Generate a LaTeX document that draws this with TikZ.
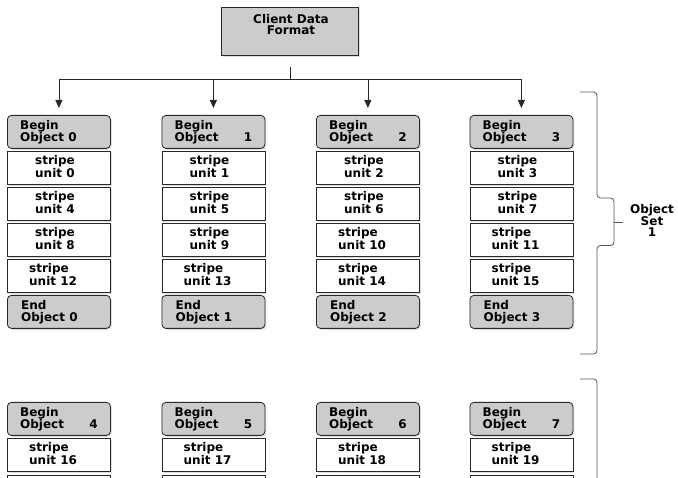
\documentclass[tikz,border=0pt]{standalone}
\usepackage{fontspec}
\setmainfont{DejaVu Sans}
\usetikzlibrary{shadows,arrows.meta}
\definecolor{boxgray}{RGB}{204,204,204}
\definecolor{linec}{RGB}{40,40,40}
\definecolor{bracec}{RGB}{85,85,85}
\tikzset{
 box/.style={draw=linec, line width=0.8pt, minimum width=103pt, minimum height=33pt,
   inner sep=0pt, anchor=north west,
   drop shadow={shadow xshift=1.5pt, shadow yshift=-1.5pt, opacity=0.25}},
 gbox/.style={box, fill=boxgray, rounded corners=4pt},
 wbox/.style={box, fill=white},
 lbl/.style={font=\bfseries\fontsize{12}{11.5}\selectfont, inner sep=0pt, align=left, text=black},
 clbl/.style={lbl, align=center},
 conn/.style={draw=linec, line width=0.8pt},
 arr/.style={conn, -{Triangle[length=8pt,width=7pt]}},
 bracepath/.style={draw=bracec, line width=0.8pt, rounded corners=3.5pt}
}
\begin{document}
\begin{tikzpicture}[x=1pt,y=-1pt]
\useasboundingbox (0,0) rectangle (678,478);
% top box
\node[box, fill=boxgray, minimum width=137pt, minimum height=48pt] (client) at (221,7) {};
\node[clbl, anchor=base] (clienttxt) at (291,35) {Client Data\\Format};
% bus
\coordinate (stemtop) at (290,67);
\coordinate (busmid) at (290,79);
\coordinate (busL) at (59,79);
\coordinate (busR) at (520.5,79);
\draw[conn] (stemtop) -- (busmid);
\draw[conn] (busL) -- (busR);
% columns, set 1
\foreach \c/\x in {0/7,1/161.5,2/316,3/469.5}{
  \node[gbox] (b\c) at (\x,115) {};
  \foreach \r in {0,1,2,3}{
    \pgfmathtruncatemacro{\u}{4*\r+\c}
    \pgfmathsetmacro{\yy}{151+36*\r}
    \node[wbox] (s\c-\r) at (\x,\yy) {};
    \ifnum\u<10
      \node[lbl, anchor=base west] (st\c-\r) at (\x+28,\yy+26.5) {stripe\\unit \u};
    \else
      \node[lbl, anchor=base west] (st\c-\r) at (\x+22,\yy+26.5) {stripe\\unit \u};
    \fi
  }
  \node[gbox] (e\c) at (\x,295) {};
  \node[lbl, anchor=base west] (et\c) at (\x+14,321.5) {End\\Object \c};
  \draw[arr] (b\c.north |- busL) -- ([yshift=7pt]b\c.north);
}
\node[lbl, anchor=base west] (bt0) at (20,141.8) {Begin\\Object 0};
\foreach \c/\x in {1/161.5,2/316,3/469.5}{
  \node[lbl, anchor=base west] (bt\c) at (\x+13,141.8) {Begin\\Object};
  \node[lbl, anchor=base east] (bn\c) at (\x+91,141.8) {\c};
}
% set 2
\foreach \c/\x in {0/7,1/161.5,2/316,3/469.5}{
  \pgfmathtruncatemacro{\o}{4+\c}
  \pgfmathtruncatemacro{\u}{16+\c}
  \node[gbox] (bb\c) at (\x,402) {};
  \node[lbl, anchor=base west] (bbt\c) at (\x+13,428.8) {Begin\\Object};
  \node[lbl, anchor=base east] (bbn\c) at (\x+91,428.8) {\o};
  \node[wbox] (ss\c) at (\x,438) {};
  \node[lbl, anchor=base west] (sst\c) at (\x+22,464.5) {stripe\\unit \u};
  \node[wbox] (sn\c) at (\x,475) {};
}
% braces
\draw[bracepath] (580,92) -- (597,92) -- (597,198) -- (614,198) -- (614,245.5) -- (597,245.5) -- (597,354) -- (580,354);
\coordinate (tip1) at (614,222.5);
\coordinate (tipend1) at (623,222.5);
\draw[draw=bracec, line width=0.8pt] (tip1) -- (tipend1);
\node[clbl, anchor=base] (set1) at (652,237) {Object\\Set\\1};
\draw[bracepath] (580,379) -- (597,379) -- (597,482);
\end{tikzpicture}
\end{document}
